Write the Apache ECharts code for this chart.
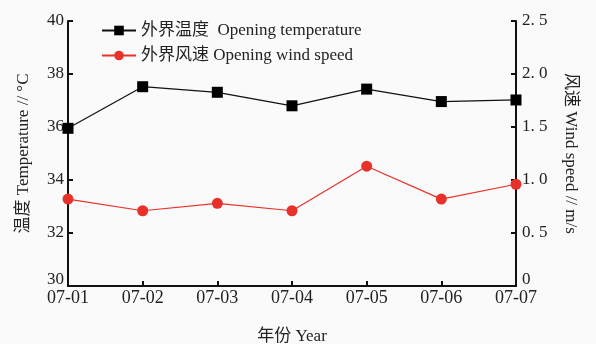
<!DOCTYPE html>
<html>
<head>
<meta charset="utf-8">
<script src="https://cdn.jsdelivr.net/npm/echarts@6/dist/echarts.min.js"></script>
<style>
  html, body { margin: 0; padding: 0; background: #fafafa; }
  #chart { width: 596px; height: 344px; }
</style>
</head>
<body>
<div id="chart"></div>
<script>
// Daily outdoor conditions, 1–7 July
const dates = ['07-01', '07-02', '07-03', '07-04', '07-05', '07-06', '07-07'];
const temperature = [35.95, 37.52, 37.31, 36.8, 37.43, 36.96, 37.02];   // °C
const windSpeed = [0.82, 0.71, 0.78, 0.71, 1.13, 0.82, 0.96];           // m/s
const tempTicks = { min: 30, max: 40, interval: 2 };
const windTicks = { min: 0, max: 2.5, interval: 0.5 };

const FONT = '"Liberation Serif", "Noto Sans CJK SC", serif';
const INK = '#111';
const RED = '#e8312a';

const chart = echarts.init(document.getElementById('chart'), null, { renderer: 'canvas' });

// the lowest y label is lifted so it clears the date labels
const labelRich = {
  n: { fontFamily: FONT, fontSize: 17, color: '#222' },
  low: { fontFamily: FONT, fontSize: 17, color: '#222', padding: [0, 0, 13, 0] }
};

const axisCommon = {
  axisLine: { show: true, lineStyle: { color: INK, width: 2 } },
  axisTick: { show: true, inside: true, length: 5, lineStyle: { color: INK, width: 2 } },
  axisLabel: { color: '#222', fontFamily: FONT, fontSize: 17 },
  splitLine: { show: false },
  nameTextStyle: { color: '#222', fontFamily: FONT, fontSize: 17 }
};

chart.setOption({
  backgroundColor: '#fafafa',
  animation: false,
  grid: { left: 68, right: 80, top: 21, bottom: 58, containLabel: false, outerBoundsMode: 'none' },
  legend: {
    left: 96, top: 17, orient: 'vertical', itemGap: 8,
    itemWidth: 34, itemHeight: 12,
    textStyle: { color: '#222', fontFamily: FONT, fontSize: 17 },
    data: ['外界温度  Opening temperature', '外界风速 Opening wind speed']
  },
  xAxis: {
    type: 'category', data: dates, boundaryGap: false,
    name: '年份 Year', nameLocation: 'middle', nameGap: 42,
    ...axisCommon,
    axisTick: { ...axisCommon.axisTick, alignWithLabel: true },
    axisLabel: { ...axisCommon.axisLabel, fontSize: 18, margin: 3 }
  },
  yAxis: [
    {
      type: 'value', position: 'left', ...tempTicks,
      name: '温度 Temperature // °C', nameLocation: 'middle', nameGap: 36, nameRotate: 90,
      ...axisCommon,
      axisLabel: {
        ...axisCommon.axisLabel, margin: 4, rich: labelRich,
        formatter: v => (v === tempTicks.min ? '{low|' + v + '}' : '{n|' + v + '}')
      }
    },
    {
      type: 'value', position: 'right', ...windTicks,
      name: '风速 Wind speed // m/s', nameLocation: 'middle', nameGap: 46, nameRotate: -90,
      ...axisCommon,
      axisLabel: {
        ...axisCommon.axisLabel, margin: 6, rich: labelRich,
        formatter: v => (v === windTicks.min ? '{low|0}' : '{n|' + v.toFixed(1).replace('.', '. ') + '}')
      }
    }
  ],
  series: [
    {
      name: '外界温度  Opening temperature', type: 'line', yAxisIndex: 0,
      data: temperature, symbol: 'rect', symbolSize: 11,
      lineStyle: { color: INK, width: 1.2 }, itemStyle: { color: '#000' }
    },
    {
      name: '外界风速 Opening wind speed', type: 'line', yAxisIndex: 1,
      data: windSpeed, symbol: 'circle', symbolSize: 11,
      lineStyle: { color: RED, width: 1.2 }, itemStyle: { color: RED }
    }
  ]
});
</script>
</body>
</html>
